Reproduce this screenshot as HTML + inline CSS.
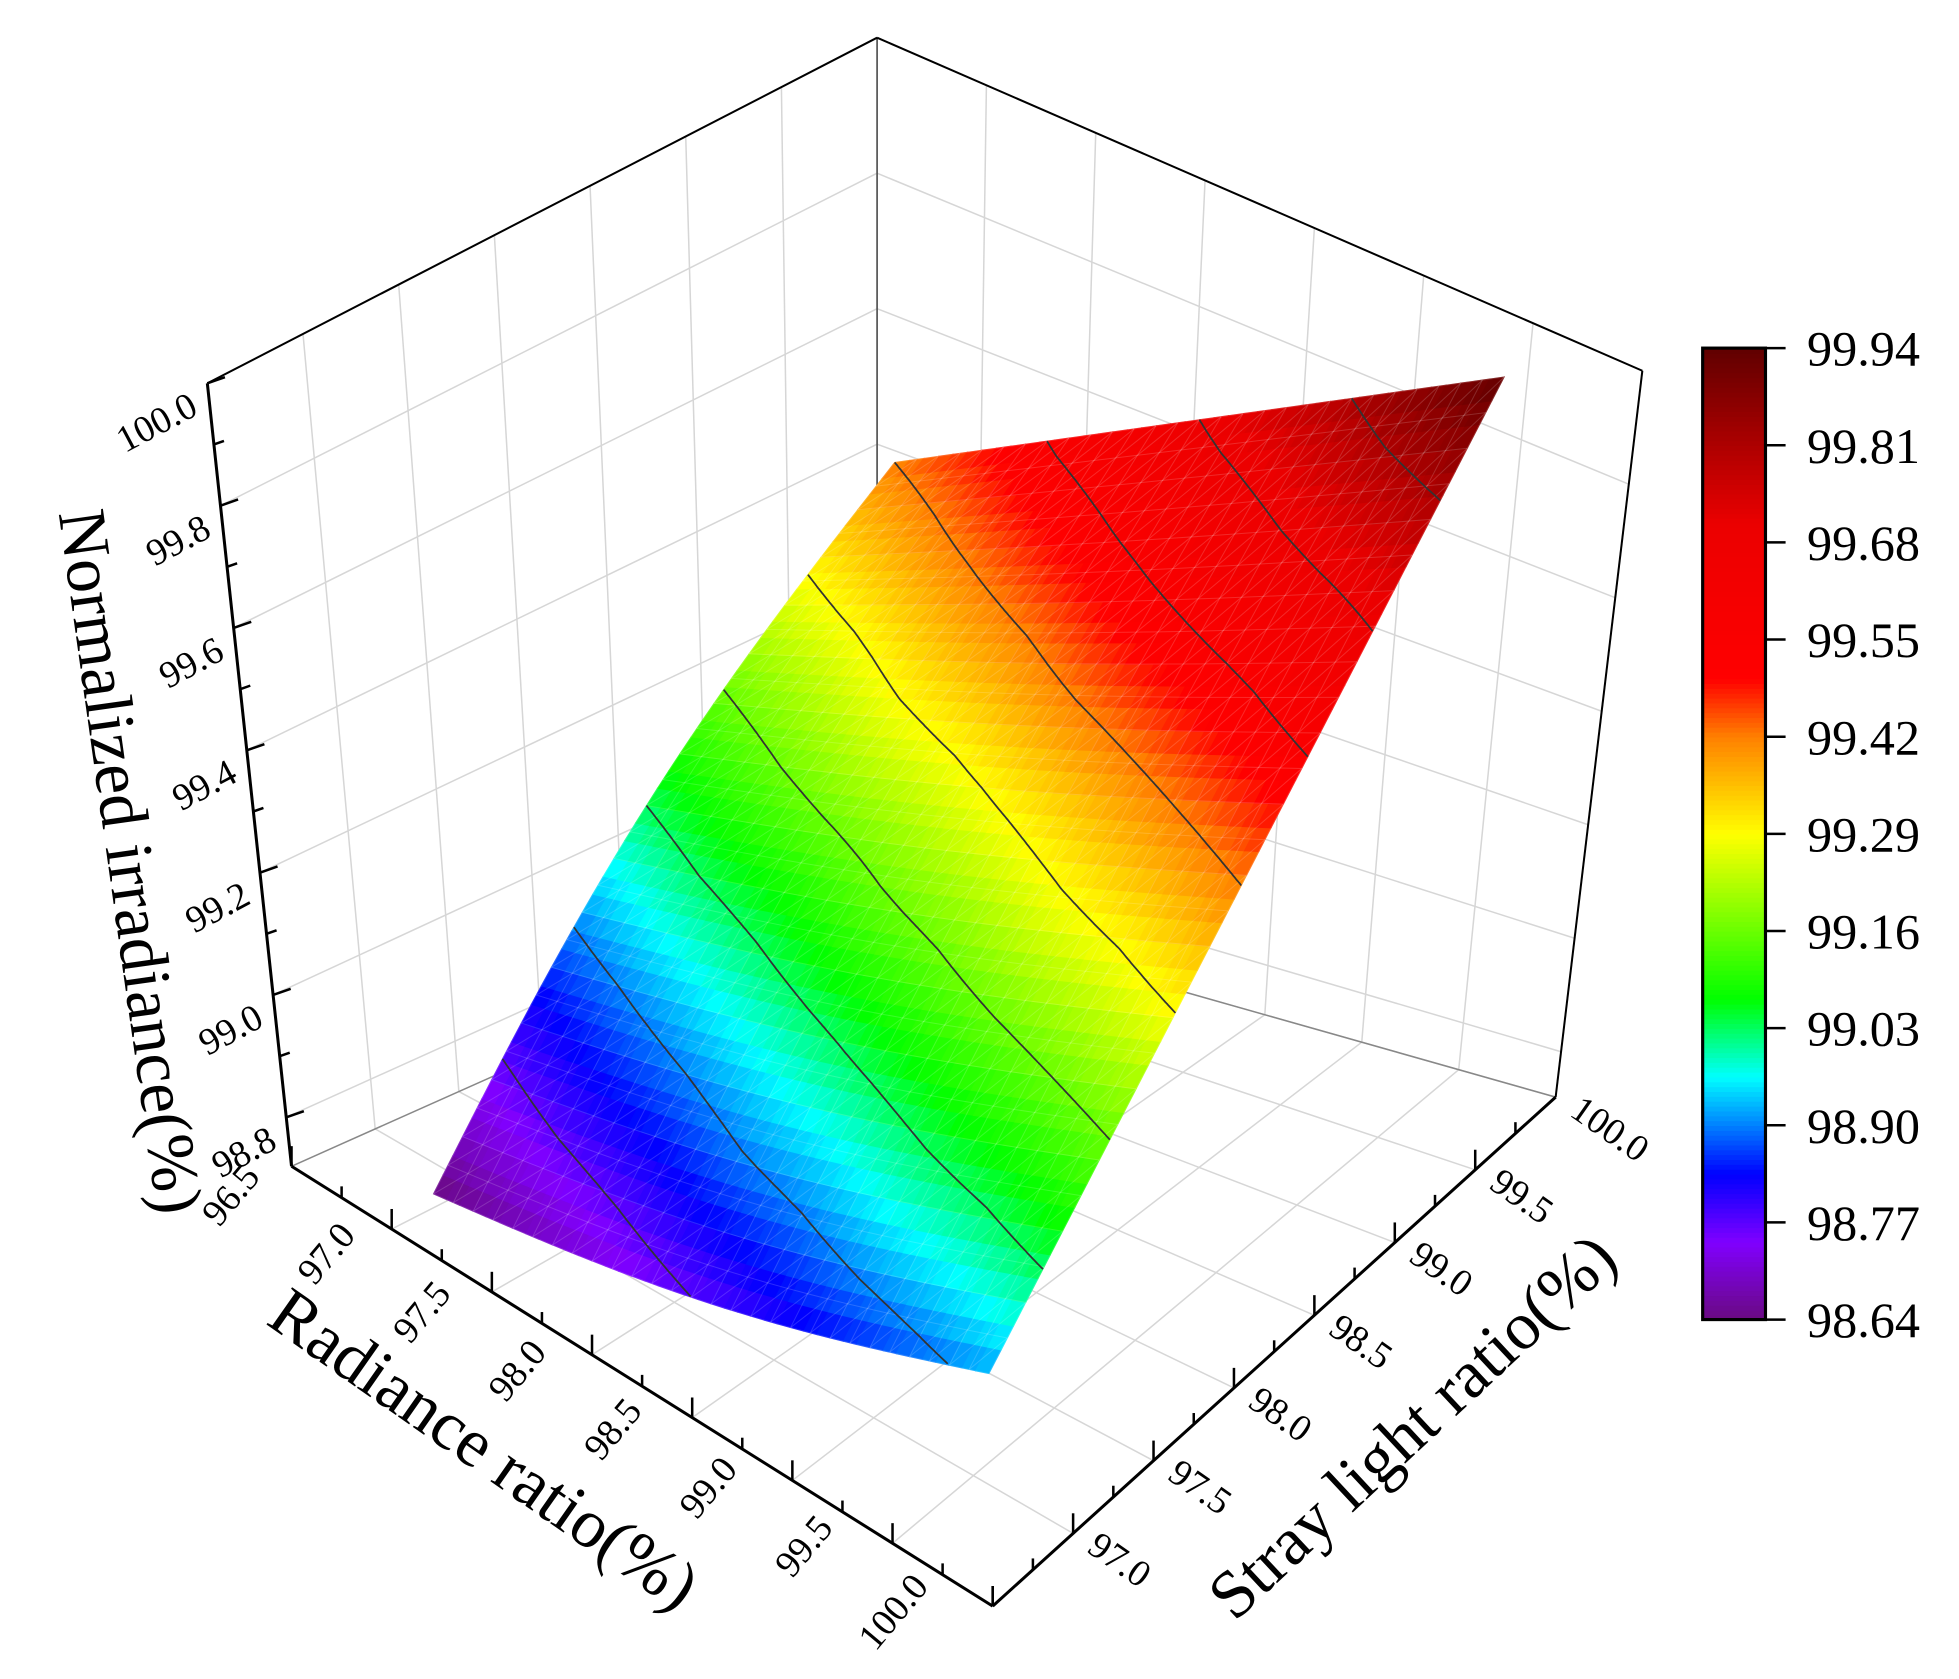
<!DOCTYPE html>
<html><head><meta charset="utf-8"><style>
html,body{margin:0;padding:0;background:#fff;}
svg{display:block;}
text{font-family:"Liberation Serif",serif;fill:#000;}
</style></head><body>
<svg id="chart" width="1959" height="1679" viewBox="0 0 1559 1336" preserveAspectRatio="none" xmlns="http://www.w3.org/2000/svg">
<g id="grid"></g>
<g id="box"></g>
<g id="surf"></g>
<g id="mesh"></g>
<g id="cont"></g>
<g id="axes"></g>
<g id="cbar"></g>
<text x="0" y="0" font-size="54" text-anchor="middle" transform="translate(86,688) rotate(82)">Normalized irradiance(%)</text>
<text x="0" y="0" font-size="55" text-anchor="middle" transform="translate(375,1168) rotate(35)">Radiance ratio(%)</text>
<text x="0" y="0" font-size="54" text-anchor="middle" transform="translate(1136,1148) rotate(-43)">Stray light ratio(%)</text>
</svg>
<script>
// ---- data ----
const radianceValues=[96.5,97.0,97.5,98.0,98.5,99.0,99.5,100.0];
const strayValues=[96.5,97.0,97.5,98.0,98.5,99.0,99.5,100.0];
const zRow0=[98.64,98.68,98.72,98.76,98.80,98.84,98.88,98.92];
const zRow1=[98.75,98.80,98.84,98.89,98.93,98.98,99.02,99.07];
const zRow2=[98.86,98.91,98.96,99.01,99.06,99.11,99.16,99.21];
const zRow3=[98.97,99.03,99.08,99.14,99.19,99.25,99.30,99.36];
const zRow4=[99.09,99.15,99.21,99.26,99.32,99.38,99.44,99.50];
const zRow5=[99.20,99.26,99.33,99.39,99.46,99.52,99.58,99.65];
const zRow6=[99.31,99.38,99.45,99.52,99.59,99.66,99.73,99.79];
const zRow7=[99.42,99.49,99.57,99.64,99.72,99.79,99.87,99.94];
const zGrid=[zRow0,zRow1,zRow2,zRow3,zRow4,zRow5,zRow6,zRow7];
const radTicks=["96.5","97.0","97.5","98.0","98.5","99.0","99.5","100.0"];
const strayTicks=["97.0","97.5","98.0","98.5","99.0","99.5","100.0"];
const zTicks=["98.8","99.0","99.2","99.4","99.6","99.8","100.0"];
const cbarTicks=["98.64","98.77","98.90","99.03","99.16","99.29","99.42","99.55","99.68","99.81","99.94"];
const contourLevels=[98.77,98.90,99.03,99.16,99.29,99.42,99.55,99.68,99.81];

const NS="http://www.w3.org/2000/svg";
function mk(tag,attrs,parent){const e=document.createElementNS(NS,tag);for(const k in attrs)e.setAttribute(k,attrs[k]);parent.appendChild(e);return e;}
const RMIN=96.5,RMAX=100,SMIN=96.5,SMAX=100,ZMIN=98.72,ZMAX=100,CMIN=98.64,CMAX=99.94;
const L=[232,928],F=[790,1278],R=[1238,873],K=[698,720],Lt=[165,305],Rt=[1307,295],Kt=[698,30];
const lerp=(a,b,t)=>[a[0]+(b[0]-a[0])*t,a[1]+(b[1]-a[1])*t];
const ru=r=>(r-RMIN)/(RMAX-RMIN), sv=s=>(s-SMIN)/(SMAX-SMIN), zw=z=>(z-ZMIN)/(ZMAX-ZMIN);
function floorPt(u,v){return lerp(lerp(L,F,u),lerp(K,R,u),v);}
function leftWall(v,w){return lerp(lerp(L,K,v),lerp(Lt,Kt,v),w);}
function rightWall(u,w){return lerp(lerp(K,R,u),lerp(Kt,Rt,u),w);}
const line=(p,q,attrs,par)=>mk('line',Object.assign({x1:p[0],y1:p[1],x2:q[0],y2:q[1]},attrs),par);

// ---- grid ----
const G=document.getElementById('grid');
const ga={stroke:'#d6d6d6','stroke-width':1.2};
strayValues.slice(1).forEach(s=>{const v=sv(s);line(leftWall(v,0),leftWall(v,1),ga,G);line(floorPt(0,v),floorPt(1,v),ga,G);});
radianceValues.slice(1).forEach(r=>{const u=ru(r);line(rightWall(u,0),rightWall(u,1),ga,G);line(floorPt(u,0),floorPt(u,1),ga,G);});
zTicks.forEach(t=>{const w=zw(+t);line(leftWall(0,w),leftWall(1,w),ga,G);line(rightWall(0,w),rightWall(1,w),ga,G);});

// ---- box ----
const B=document.getElementById('box');
const ba={stroke:'#000','stroke-width':1.6};
line(Kt,K,{stroke:'#444','stroke-width':1.2},B);
line(K,L,{stroke:'#888','stroke-width':1.2},B);
line(K,R,{stroke:'#888','stroke-width':1.2},B);
line(Kt,Lt,ba,B);line(Kt,Rt,ba,B);line(Rt,R,ba,B);

// ---- colormap ----
const stops=[[0,[106,10,128]],[0.08,[128,0,255]],[0.15,[0,0,255]],[0.25,[0,255,255]],[0.33,[0,255,0]],[0.5,[255,255,0]],[0.6,[255,128,0]],[0.66,[255,0,0]],[0.82,[235,0,0]],[1,[96,0,0]]];
function cmap(z){let t=Math.max(0,Math.min(1,(z-CMIN)/(CMAX-CMIN)));for(let i=1;i<stops.length;i++){if(t<=stops[i][0]){const a=stops[i-1],b=stops[i];const f=(t-a[0])/(b[0]-a[0]);const c=a[1].map((x,k)=>Math.round(x+(b[1][k]-x)*f));return `rgb(${c[0]},${c[1]},${c[2]})`;}}return 'rgb(96,0,0)';}

// ---- surface ----
const SA=[345,950],SB=[787,1093],SC=[1197,300],SD=[712,368];
function sPt(u,v){const p=lerp(lerp(SA,SB,u),lerp(SD,SC,u),v);
 const b1=Math.sin(Math.PI*v)*(1-u), b2=Math.sin(Math.PI*u)*(1-v);
 return [p[0]-14*b1, p[1]-18*b1+16*b2];}
function zAt(u,v){const n=zGrid.length-1,m=zGrid[0].length-1;let x=u*m,y=v*n;let i=Math.min(m-1,Math.floor(x)),j=Math.min(n-1,Math.floor(y));const fx=x-i,fy=y-j;
 return zGrid[j][i]*(1-fx)*(1-fy)+zGrid[j][i+1]*fx*(1-fy)+zGrid[j+1][i]*(1-fx)*fy+zGrid[j+1][i+1]*fx*fy;}
const N=42,S=document.getElementById('surf'),M=document.getElementById('mesh'),C=document.getElementById('cont');
const P=[],Z=[];
for(let j=0;j<=N;j++){P.push([]);Z.push([]);for(let i=0;i<=N;i++){P[j].push(sPt(i/N,j/N));Z[j].push(zAt(i/N,j/N));}}
for(let j=0;j<N;j++)for(let i=0;i<N;i++){
 const q=[P[j][i],P[j][i+1],P[j+1][i+1],P[j+1][i]];
 const c=cmap((Z[j][i]+Z[j][i+1]+Z[j+1][i]+Z[j+1][i+1])/4);
 const pg=mk('polygon',{points:q.map(p=>p.join(',')).join(' '),fill:c,stroke:c,'stroke-width':0.8},S);
 
 
}
const ma={stroke:'#fff','stroke-opacity':0.16,'stroke-width':0.8,fill:'none'};
const MN=28;
for(let k=0;k<=MN;k++){let a=[],b=[];for(let t=0;t<=MN;t++){a.push(sPt(k/MN,t/MN).join(','));b.push(sPt(t/MN,k/MN).join(','));}
 mk('polyline',Object.assign({points:a.join(' ')},ma),M);mk('polyline',Object.assign({points:b.join(' ')},ma),M);}
for(let k=-MN;k<=MN;k++){let a=[];for(let t=0;t<=MN;t++){const u=(t)/MN,v=(t+k)/MN;if(v>=0&&v<=1)a.push(sPt(u,v).join(','));}if(a.length>1)mk('polyline',Object.assign({points:a.join(' ')},ma),M);}
contourLevels.forEach(lv=>{
 const pts=[];
 for(let k=0;k<=240;k++){const u=k/240;
  if(zAt(u,0)>lv||zAt(u,1)<lv)continue;
  let lo=0,hi=1;for(let it=0;it<30;it++){const mid=(lo+hi)/2;if(zAt(u,mid)<lv)lo=mid;else hi=mid;}
  const p=sPt(u,(lo+hi)/2);pts.push(p[0].toFixed(1)+','+p[1].toFixed(1));}
 if(pts.length<2)return;
 const pl=mk('polyline',{points:pts.join(' '),stroke:'#333','stroke-width':1.4,fill:'none'},C);
 
 
});

// ---- axes ----
const A=document.getElementById('axes');
line(Lt,L,{stroke:'#000','stroke-width':2.4},A);
line(L,F,{stroke:'#000','stroke-width':2.4},A);
line(F,R,{stroke:'#000','stroke-width':2.4},A);
for(let k=0;k<radianceValues.length*2-1;k++){const r=RMIN+k*0.25;const p=floorPt(ru(r),0);const len=k%2?9:16;line(p,[p[0],p[1]-len],{stroke:'#000','stroke-width':2},A);}
radTicks.forEach(t=>{const u=ru(+t);const p=floorPt(u,0);const dx=-24-26*u,dy=9-24*u;
 const tx=mk('text',{x:0,y:0,'font-size':30,'text-anchor':'end',transform:`translate(${p[0]+dx},${p[1]+dy}) rotate(-50)`},A);tx.textContent=t;
 
 });
for(let k=0;k<=13;k++){const s=SMIN+k*0.25;if(s>SMAX)break;const p=floorPt(1,sv(s));const len=k%2?9:16;line(p,[p[0],p[1]-len],{stroke:'#000','stroke-width':2},A);}
strayTicks.forEach(t=>{const p=floorPt(1,sv(+t));const tx=mk('text',{x:0,y:0,'font-size':30,'text-anchor':'start',transform:`translate(${p[0]+10},${p[1]+14}) rotate(35)`},A);tx.textContent=t;
 
 });
for(let k=0;k<=13;k++){const z=98.8+k*0.1;if(z>ZMAX+1e-6)break;const p=leftWall(0,zw(z));const len=k%2?8:14;line(p,[p[0]+len,p[1]-len*0.35],{stroke:'#000','stroke-width':2},A);}
zTicks.forEach(t=>{const p=leftWall(0,zw(+t));const tx=mk('text',{x:0,y:0,'font-size':30,'text-anchor':'end',transform:`translate(${p[0]-6},${p[1]+24}) rotate(-28)`},A);tx.textContent=t;
 
 });

// ---- color scale ----
const CB=document.getElementById('cbar');
const cx0=1355,cx1=1405,cyTop=277,cyBot=1050;
const cy=z=>cyBot-(z-CMIN)/(CMAX-CMIN)*(cyBot-cyTop);
for(let k=0;k<200;k++){const z0=CMIN+(CMAX-CMIN)*k/200,z1=CMIN+(CMAX-CMIN)*(k+1)/200;mk('rect',{x:cx0,y:cy(z1),width:cx1-cx0,height:cy(z0)-cy(z1)+0.6,fill:cmap((z0+z1)/2)},CB);}
mk('rect',{x:cx0,y:cyTop,width:cx1-cx0,height:cyBot-cyTop,fill:'none',stroke:'#000','stroke-width':2.5},CB);
cbarTicks.forEach(t=>{const y=cy(+t);line([cx1,y],[cx1+16,y],{stroke:'#000','stroke-width':2},CB);
 const tx=mk('text',{x:1438,y:y+14,'font-size':40},CB);tx.textContent=t;
 
 });
</script>
</body></html>
